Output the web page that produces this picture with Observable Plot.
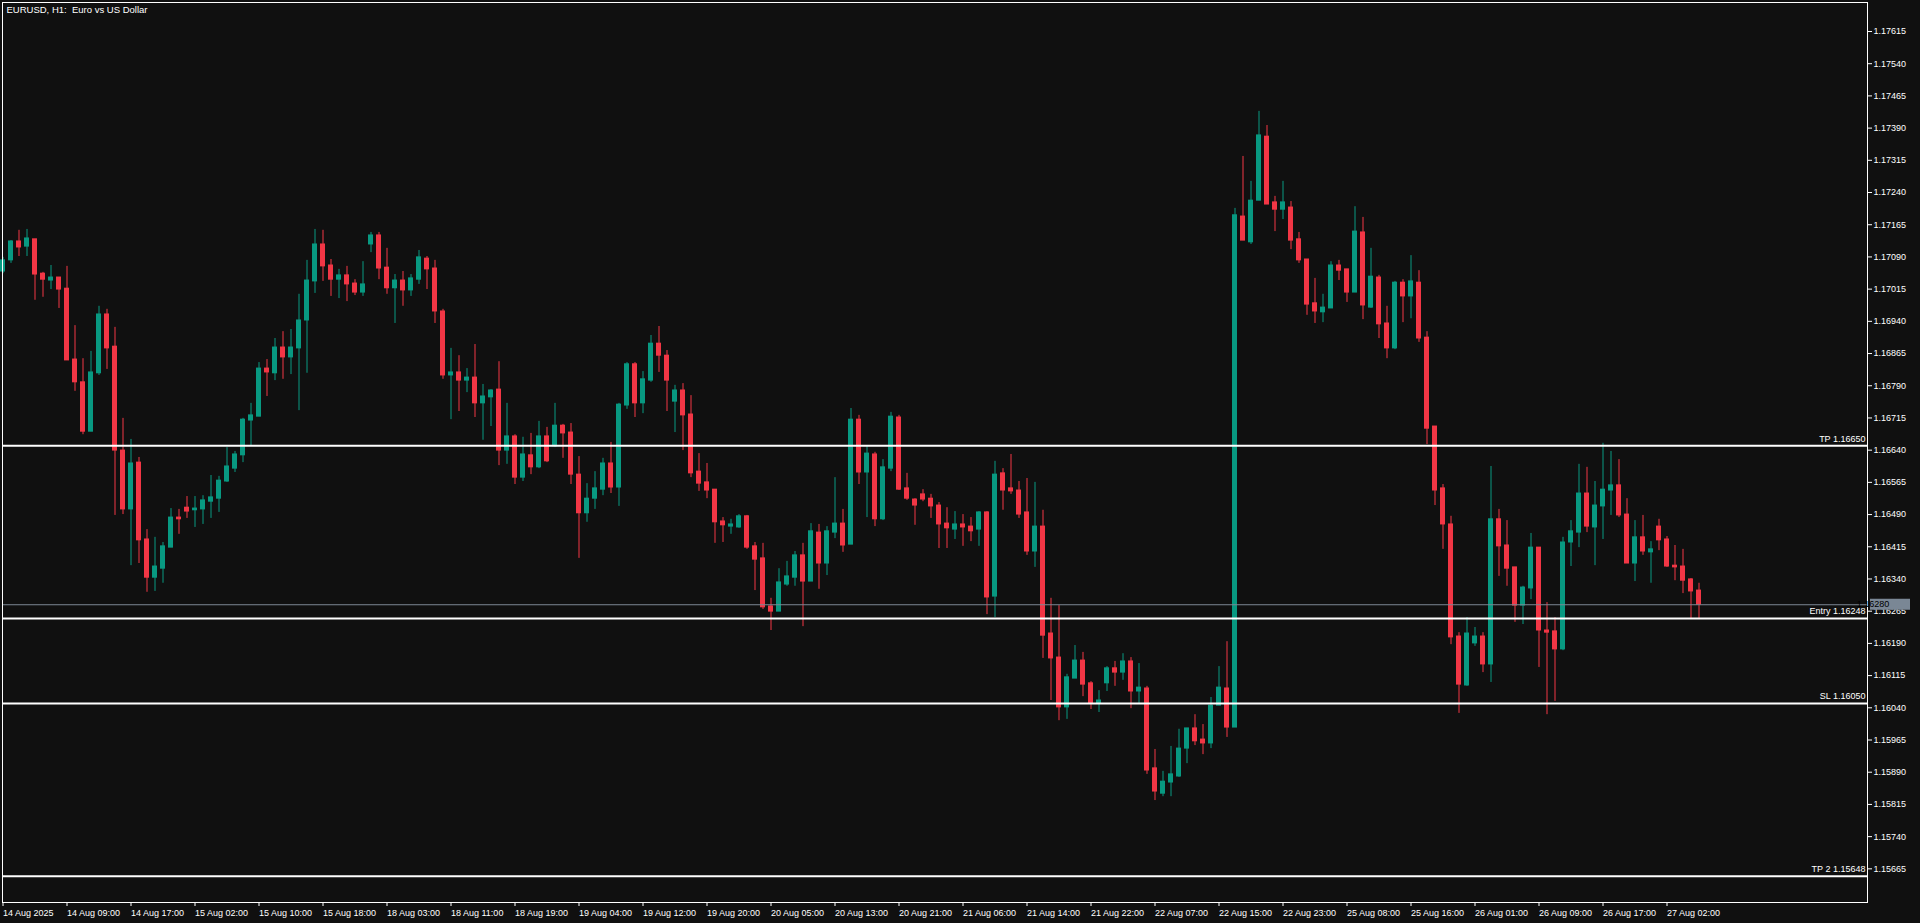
<!DOCTYPE html>
<html><head><meta charset="utf-8">
<script src="https://cdn.jsdelivr.net/npm/d3@7"></script>
<script src="https://cdn.jsdelivr.net/npm/@observablehq/plot@0.6"></script>
<style>
html,body{margin:0;padding:0;background:#101010;overflow:hidden}
</style></head><body><div id="chart"></div>
<script>
const title = "EURUSD, H1:\u00a0 Euro vs US Dollar";

const opens = [
1.17056,1.17082,1.17126,1.17114,1.17131,1.17051,1.17035,1.17042,1.17016,1.16851,
1.16798,1.16683,1.16819,1.16956,1.16881,1.16639,1.16502,1.16611,1.16432,1.16343,
1.16364,1.16413,1.16483,1.16506,1.16500,1.16502,1.16520,1.16527,1.16567,1.16597,
1.16628,1.16709,1.16718,1.16830,1.16819,1.16879,1.16856,1.16877,1.16942,1.17033,
1.17119,1.17070,1.17037,1.17047,1.17028,1.17007,1.17119,1.17140,1.17065,1.17017,
1.17035,1.17012,1.17037,1.17086,1.17063,1.16963,1.16814,1.16821,1.16802,1.16809,
1.16749,1.16763,1.16781,1.16639,1.16672,1.16576,1.16628,1.16600,1.16672,1.16649,
1.16697,1.16681,1.16583,1.16493,1.16527,1.16548,1.16609,1.16553,1.16744,1.16840,
1.16749,1.16802,1.16888,1.16860,1.16753,1.16779,1.16723,1.16590,1.16565,1.16548,
1.16474,1.16462,1.16460,1.16486,1.16416,1.16388,1.16276,1.16264,1.16327,1.16343,
1.16395,1.16334,1.16448,1.16376,1.16448,1.16469,1.16420,1.16711,1.16588,1.16630,
1.16479,1.16597,1.16716,1.16551,1.16525,1.16537,1.16527,1.16511,1.16469,1.16455,
1.16467,1.16462,1.16455,1.16495,1.16299,1.16586,1.16551,1.16546,1.16495,1.16404,
1.16462,1.16213,1.16157,1.16041,1.16108,1.16150,1.16097,1.16050,1.16097,1.16132,
1.16122,1.16148,1.16078,1.16085,1.15899,1.15840,1.15866,1.15880,1.15945,1.15992,
1.15966,1.15957,1.16045,1.16085,1.15994,1.17184,1.17124,1.17221,1.17370,1.17217,
1.17200,1.17205,1.17131,1.17084,1.16982,1.16961,1.16970,1.17070,1.17061,1.17007,
1.17147,1.16972,1.17042,1.16935,1.16877,1.17030,1.16998,1.17030,1.16902,1.16695,
1.16551,1.16467,1.16206,1.16092,1.16190,1.16206,1.16141,1.16479,1.16418,1.16367,
1.16278,1.16318,1.16413,1.16220,1.16218,1.16176,1.16425,1.16448,1.16539,1.16460,
1.16509,1.16546,1.16558,1.16490,1.16376,1.16437,1.16402,1.16462,1.16432,1.16371,
1.16369,1.16339,1.16313];

const highs = [
1.17089,1.17128,1.17152,1.17154,1.17131,1.17054,1.17070,1.17042,1.17068,1.16930,
1.16853,1.16870,1.16975,1.16968,1.16926,1.16714,1.16665,1.16623,1.16455,1.16437,
1.16425,1.16504,1.16502,1.16532,1.16532,1.16534,1.16581,1.16579,1.16646,1.16637,
1.16714,1.16749,1.16844,1.16851,1.16900,1.16916,1.16921,1.17003,1.17082,1.17154,
1.17152,1.17084,1.17061,1.17068,1.17037,1.17079,1.17147,1.17147,1.17110,1.17049,
1.17056,1.17049,1.17105,1.17091,1.17082,1.16968,1.16877,1.16860,1.16830,1.16886,
1.16793,1.16781,1.16846,1.16749,1.16676,1.16670,1.16679,1.16707,1.16693,1.16749,
1.16700,1.16702,1.16625,1.16562,1.16590,1.16621,1.16658,1.16749,1.16844,1.16844,
1.16823,1.16907,1.16928,1.16872,1.16791,1.16795,1.16767,1.16632,1.16609,1.16548,
1.16483,1.16479,1.16490,1.16488,1.16425,1.16423,1.16295,1.16364,1.16381,1.16404,
1.16423,1.16469,1.16467,1.16462,1.16576,1.16502,1.16737,1.16721,1.16649,1.16635,
1.16618,1.16728,1.16721,1.16586,1.16527,1.16548,1.16537,1.16518,1.16506,1.16497,
1.16490,1.16483,1.16497,1.16497,1.16614,1.16597,1.16630,1.16567,1.16574,1.16565,
1.16500,1.16295,1.16278,1.16118,1.16185,1.16169,1.16101,1.16080,1.16136,1.16148,
1.16166,1.16157,1.16143,1.16090,1.15943,1.15892,1.15950,1.15990,1.15992,1.16024,
1.16001,1.16064,1.16136,1.16194,1.17203,1.17324,1.17266,1.17429,1.17396,1.17231,
1.17266,1.17219,1.17147,1.17084,1.17040,1.17003,1.17079,1.17082,1.17061,1.17207,
1.17182,1.17110,1.17047,1.16975,1.17033,1.17037,1.17093,1.17058,1.16916,1.16695,
1.16560,1.16486,1.16215,1.16250,1.16227,1.16215,1.16602,1.16502,1.16476,1.16367,
1.16323,1.16446,1.16413,1.16285,1.16250,1.16437,1.16476,1.16607,1.16600,1.16567,
1.16656,1.16637,1.16618,1.16527,1.16476,1.16488,1.16427,1.16479,1.16439,1.16418,
1.16409,1.16341,1.16330];

const lows = [
1.17051,1.17075,1.17091,1.17091,1.16989,1.16996,1.17014,1.16970,1.16849,1.16777,
1.16676,1.16683,1.16814,1.16828,1.16488,1.16490,1.16371,1.16376,1.16309,1.16311,
1.16330,1.16413,1.16444,1.16481,1.16460,1.16467,1.16481,1.16495,1.16565,1.16588,
1.16611,1.16649,1.16718,1.16765,1.16802,1.16805,1.16816,1.16732,1.16819,1.17005,
1.17033,1.16998,1.16993,1.16986,1.17000,1.16998,1.17100,1.17037,1.17003,1.16935,
1.16975,1.16998,1.17026,1.17014,1.16935,1.16805,1.16711,1.16730,1.16774,1.16716,
1.16663,1.16695,1.16604,1.16607,1.16560,1.16567,1.16583,1.16597,1.16611,1.16646,
1.16621,1.16560,1.16388,1.16472,1.16502,1.16534,1.16539,1.16509,1.16735,1.16716,
1.16725,1.16798,1.16821,1.16730,1.16681,1.16639,1.16576,1.16544,1.16527,1.16423,
1.16425,1.16444,1.16458,1.16409,1.16313,1.16269,1.16220,1.16264,1.16323,1.16323,
1.16229,1.16334,1.16316,1.16348,1.16434,1.16402,1.16420,1.16560,1.16483,1.16462,
1.16476,1.16590,1.16546,1.16523,1.16465,1.16520,1.16481,1.16411,1.16411,1.16432,
1.16416,1.16427,1.16416,1.16257,1.16250,1.16500,1.16537,1.16481,1.16395,1.16367,
1.16155,1.16057,1.16010,1.16013,1.16108,1.16066,1.16036,1.16029,1.16078,1.16090,
1.16104,1.16038,1.16050,1.15885,1.15824,1.15833,1.15833,1.15878,1.15910,1.15952,
1.15931,1.15945,1.16045,1.15971,1.15994,1.17128,1.17119,1.17221,1.17212,1.17149,
1.17177,1.17107,1.17075,1.16954,1.16935,1.16937,1.16970,1.17035,1.16984,1.17007,
1.16944,1.16970,1.16900,1.16853,1.16874,1.16937,1.16946,1.16891,1.16653,1.16511,
1.16409,1.16187,1.16027,1.16090,1.16183,1.16122,1.16099,1.16346,1.16323,1.16239,
1.16234,1.16292,1.16134,1.16024,1.16055,1.16173,1.16369,1.16413,1.16448,1.16371,
1.16432,1.16488,1.16483,1.16376,1.16334,1.16395,1.16330,1.16406,1.16367,1.16336,
1.16306,1.16246,1.16248];

const closes = [
1.17082,1.17126,1.17112,1.17133,1.17049,1.17037,1.17042,1.17014,1.16849,1.16798,
1.16683,1.16821,1.16956,1.16877,1.16639,1.16502,1.16609,1.16430,1.16343,1.16369,
1.16416,1.16483,1.16479,1.16497,1.16504,1.16523,1.16530,1.16569,1.16602,1.16630,
1.16711,1.16721,1.16830,1.16821,1.16879,1.16856,1.16879,1.16942,1.17035,1.17119,
1.17068,1.17037,1.17047,1.17026,1.17007,1.17026,1.17140,1.17063,1.17017,1.17035,
1.17012,1.17040,1.17089,1.17061,1.16963,1.16814,1.16821,1.16802,1.16809,1.16749,
1.16765,1.16779,1.16639,1.16672,1.16576,1.16630,1.16600,1.16672,1.16614,1.16697,
1.16679,1.16583,1.16493,1.16527,1.16551,1.16609,1.16553,1.16746,1.16840,1.16749,
1.16805,1.16888,1.16860,1.16802,1.16779,1.16721,1.16586,1.16562,1.16546,1.16472,
1.16465,1.16467,1.16486,1.16413,1.16385,1.16274,1.16264,1.16332,1.16346,1.16395,
1.16334,1.16451,1.16376,1.16451,1.16469,1.16418,1.16711,1.16588,1.16632,1.16479,
1.16600,1.16718,1.16548,1.16527,1.16511,1.16525,1.16509,1.16467,1.16458,1.16467,
1.16460,1.16451,1.16495,1.16297,1.16583,1.16546,1.16544,1.16490,1.16404,1.16462,
1.16208,1.16155,1.16041,1.16111,1.16150,1.16094,1.16050,1.16057,1.16132,1.16122,
1.16148,1.16078,1.16087,1.15894,1.15845,1.15868,1.15885,1.15945,1.15992,1.15962,
1.15957,1.16045,1.16087,1.15994,1.17187,1.17128,1.17221,1.17373,1.17212,1.17200,
1.17217,1.17128,1.17082,1.16979,1.16963,1.16972,1.17070,1.17058,1.17007,1.17149,
1.16977,1.17044,1.16933,1.16877,1.17030,1.16998,1.17033,1.16900,1.16690,1.16546,
1.16467,1.16204,1.16094,1.16213,1.16206,1.16141,1.16479,1.16416,1.16364,1.16278,
1.16320,1.16413,1.16220,1.16215,1.16176,1.16425,1.16451,1.16539,1.16462,1.16511,
1.16548,1.16558,1.16488,1.16376,1.16437,1.16404,1.16409,1.16430,1.16369,1.16367,
1.16336,1.16311,1.16280];

// time axis: one label every 8 bars, starting at the first bar
const barsPerTimeLabel = 8;
const timeLabels = [
"14 Aug 2025","14 Aug 09:00","14 Aug 17:00","15 Aug 02:00","15 Aug 10:00","15 Aug 18:00",
"18 Aug 03:00","18 Aug 11:00","18 Aug 19:00","19 Aug 04:00","19 Aug 12:00","19 Aug 20:00",
"20 Aug 05:00","20 Aug 13:00","20 Aug 21:00","21 Aug 06:00","21 Aug 14:00","21 Aug 22:00",
"22 Aug 07:00","22 Aug 15:00","22 Aug 23:00","25 Aug 08:00","25 Aug 16:00","26 Aug 01:00",
"26 Aug 09:00","26 Aug 17:00","27 Aug 02:00"];

const priceTicks = [
1.15665,1.15740,1.15815,1.15890,1.15965,1.16040,1.16115,1.16190,1.16265,1.16340,
1.16415,1.16490,1.16565,1.16640,1.16715,1.16790,1.16865,1.16940,1.17015,1.17090,
1.17165,1.17240,1.17315,1.17390,1.17465,1.17540,1.17615];

const levelNames = ["TP", "Entry", "SL", "TP 2"];
const levelPrices = [1.16650, 1.16248, 1.16050, 1.15648];
const currentPrice = 1.16280;

const bull = "#089981", bear = "#f23645";
const candles = opens.map((o, i) => ({i, open: o, high: highs[i], low: lows[i], close: closes[i]}));
const colorOf = d => d.close >= d.open ? bull : bear;
const levels = levelNames.map((n, k) => ({name: n, price: levelPrices[k]}));
const timeTickIdx = timeLabels.map((_, k) => k * barsPerTimeLabel);

const W = 1920, H = 923;
const chart = Plot.plot({
  width: W, height: H,
  marginLeft: 2, marginRight: 53, marginTop: 2, marginBottom: 21,
  style: {background: "#101010", color: "#ffffff", fontFamily: "'Liberation Sans', Arial, sans-serif", fontSize: "9px", whiteSpace: "pre"},
  x: {type: "linear", domain: [-0.0625, 233.0625]},
  y: {type: "linear", domain: [1.155866, 1.176825]},
  marks: [
    Plot.ruleX(candles, {x: "i", y1: "low", y2: "high", stroke: colorOf, strokeWidth: 1}),
    Plot.rect(candles, {x1: d => d.i - 0.3125, x2: d => d.i + 0.3125, y1: "open", y2: "close", fill: colorOf, insetTop: -0.5, insetBottom: -0.5}),
    Plot.ruleY([currentPrice], {stroke: "#7d8794", strokeWidth: 1}),
    Plot.ruleY(levels, {y: "price", stroke: "#ffffff", strokeWidth: 2}),
    Plot.text(levels, {y: "price", text: d => `${d.name} ${d.price.toFixed(5)}`, frameAnchor: "right", textAnchor: "end", dx: -2, dy: -7, fill: "#ffffff"}),
    Plot.text([title], {frameAnchor: "top-left", textAnchor: "start", lineAnchor: "top", dx: 4, dy: 4, fill: "#ffffff", fontSize: 9.5}),
    Plot.axisY({anchor: "right", ticks: priceTicks, tickFormat: d => d.toFixed(5), tickSize: 4, tickPadding: 2, label: null, stroke: "#ffffff"}),
    Plot.axisX({anchor: "bottom", ticks: timeTickIdx, tickFormat: d => timeLabels[d / barsPerTimeLabel], tickSize: 4, tickPadding: 3, textAnchor: "start", label: null, stroke: "#ffffff"}),
    Plot.frame({stroke: "#ffffff"})
  ]
});

// current bid label on the price axis
const yScale = chart.scale("y");
const yc = yScale.apply(currentPrice);
const svg = d3.select(chart);
const g = svg.append("g")
  .attr("font-family", "'Liberation Sans', Arial, sans-serif")
  .attr("font-size", 9);
g.append("rect").attr("x", W - 50).attr("y", yc - 5.5).attr("width", 40).attr("height", 11).attr("fill", "#7a8795");
g.append("text").attr("x", W - 47).attr("y", yc).attr("dy", "0.35em").attr("fill", "#000000").text(currentPrice.toFixed(5));

document.getElementById("chart").appendChild(chart);
</script></body></html>
